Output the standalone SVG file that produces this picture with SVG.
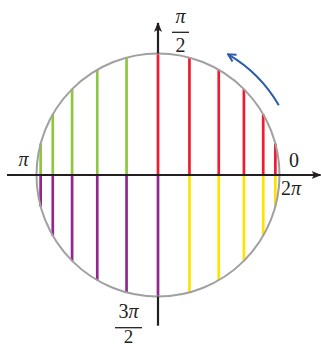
<svg xmlns="http://www.w3.org/2000/svg" width="321" height="347" viewBox="0 0 321 347">
<style>
.seg{stroke-width:2.7;fill:none}
.r{stroke:#ee1c2e}
.g{stroke:#8dc63f}
.p{stroke:#92278f}
.y{stroke:#ffe200}
.axis{stroke:#231f20;stroke-width:2.2;fill:none}
.circ{stroke:#a0a0a0;stroke-width:2;fill:none}
.lbl{font-family:"Liberation Serif","DejaVu Serif",serif;font-size:20px;fill:#231f20}
.it{font-style:italic}
.bar{stroke:#231f20;stroke-width:1.3}
</style>
<defs>
<marker id="ah" viewBox="0 0 10 8" refX="9" refY="4" markerWidth="10" markerHeight="8" markerUnits="userSpaceOnUse" orient="auto">
<path d="M0,0 L10,4 L0,8 L2.5,4 Z" fill="#231f20"/>
</marker>
<marker id="bh" viewBox="0 0 10 10" refX="8" refY="5" markerWidth="10" markerHeight="10" markerUnits="userSpaceOnUse" orient="auto">
<path d="M1,1 L8.5,5 L1,9" fill="none" stroke="#2a5ca8" stroke-width="2" stroke-linejoin="miter"/>
</marker>
</defs>
<g id="segments">
<g id="red">
<line class="seg r" x1="158" y1="175" x2="158" y2="53.5"/>
<line class="seg r" x1="189.45" y1="175" x2="189.45" y2="57.64"/>
<line class="seg r" x1="218.75" y1="175" x2="218.75" y2="69.78"/>
<line class="seg r" x1="243.91" y1="175" x2="243.91" y2="89.09"/>
<line class="seg r" x1="263.22" y1="175" x2="263.22" y2="114.25"/>
<line class="seg r" x1="275.36" y1="175" x2="275.36" y2="143.55"/>
</g>
<g id="green">
<line class="seg g" x1="126.55" y1="175" x2="126.55" y2="57.64"/>
<line class="seg g" x1="97.25" y1="175" x2="97.25" y2="69.78"/>
<line class="seg g" x1="72.09" y1="175" x2="72.09" y2="89.09"/>
<line class="seg g" x1="52.78" y1="175" x2="52.78" y2="114.25"/>
<line class="seg g" x1="40.64" y1="175" x2="40.64" y2="143.55"/>
</g>
<g id="purple">
<line class="seg p" x1="158" y1="175" x2="158" y2="296.5"/>
<line class="seg p" x1="126.55" y1="175" x2="126.55" y2="292.36"/>
<line class="seg p" x1="97.25" y1="175" x2="97.25" y2="280.22"/>
<line class="seg p" x1="72.09" y1="175" x2="72.09" y2="260.91"/>
<line class="seg p" x1="52.78" y1="175" x2="52.78" y2="235.75"/>
<line class="seg p" x1="40.64" y1="175" x2="40.64" y2="206.45"/>
</g>
<g id="yellow">
<line class="seg y" x1="189.45" y1="175" x2="189.45" y2="292.36"/>
<line class="seg y" x1="218.75" y1="175" x2="218.75" y2="280.22"/>
<line class="seg y" x1="243.91" y1="175" x2="243.91" y2="260.91"/>
<line class="seg y" x1="263.22" y1="175" x2="263.22" y2="235.75"/>
<line class="seg y" x1="275.36" y1="175" x2="275.36" y2="206.45"/>
</g>
</g>
<g id="circle">
<circle class="circ" cx="158" cy="175" r="121.5"/>
</g>
<g id="connectors">
<line class="axis" x1="7" y1="175" x2="320.5" y2="175" marker-end="url(#ah)"/>
<line class="axis" x1="158" y1="325.7" x2="158" y2="296.5"/>
<line class="axis" x1="158" y1="53.5" x2="158" y2="23" marker-end="url(#ah)"/>
<path d="M278.8,105.25 A139.5,139.5 0 0 0 228.5,54.6" fill="none" stroke="#2a5ca8" stroke-width="2" marker-end="url(#bh)"/>
</g>
<g id="labels">
<text class="lbl it" x="180.5" y="22.5" text-anchor="middle">π</text>
<line class="bar" x1="172" y1="32.3" x2="189" y2="32.3"/>
<text class="lbl" x="180.5" y="52" text-anchor="middle">2</text>
<text class="lbl" x="294" y="167" text-anchor="middle">0</text>
<text class="lbl" x="281" y="195">2<tspan class="it">π</tspan></text>
<text class="lbl it" x="23.5" y="166" text-anchor="middle">π</text>
<text class="lbl" x="128.5" y="318" text-anchor="middle">3<tspan class="it">π</tspan></text>
<line class="bar" x1="115" y1="327.7" x2="142" y2="327.7"/>
<text class="lbl" x="128.5" y="342.8" text-anchor="middle" style="font-size:19px">2</text>
</g>
</svg>
